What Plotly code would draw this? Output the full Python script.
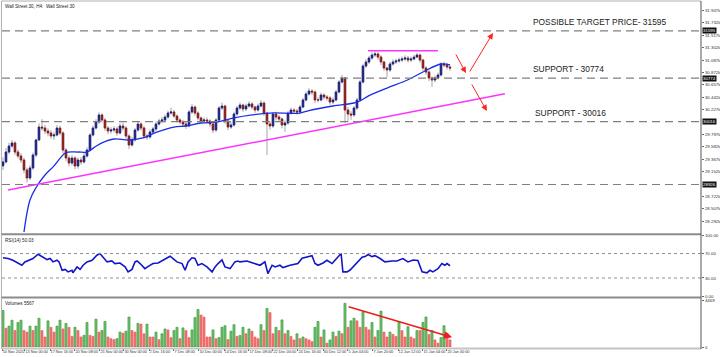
import plotly.graph_objects as go

# ---------------- data ----------------
close = [29317, 29490, 29594, 29647, 29490, 29421, 29351, 29178, 29039, 29213,
         29438, 29699, 29924, 29907, 29855, 29820, 29768, 29785, 29907, 29820,
         29525, 29386, 29299, 29386, 29247, 29351, 29317, 29421, 29525, 29785,
         29907, 30011, 30133, 30046, 29907, 29855, 29872, 29890, 29820, 29942,
         29907, 29768, 29612, 29699, 29872, 29976, 29907, 29768, 29751, 29837,
         29890, 29976, 30028, 30046, 30098, 30167, 30185, 30115, 30046, 30011,
         29976, 29942, 30185, 30271, 30167, 30081, 30028, 30046, 30028, 29976,
         29872, 30046, 30254, 30289, 30028, 29924, 29959, 30150, 30254, 30306,
         30237, 30289, 30324, 30271, 30219, 30289, 30341, 30167, 29976, 29942,
         30150, 30098, 30063, 29959, 29994, 30167, 30219, 30202, 30185, 30271,
         30393, 30497, 30549, 30532, 30393, 30393, 30480, 30445, 30428, 30358,
         30393, 30532, 30705, 30775, 30219, 30150, 30133, 30254, 30393, 30705,
         30983, 31053, 31122, 31174, 31192, 31139, 31053, 30949, 30914, 31018,
         31053, 31070, 31087, 31105, 31122, 31087, 31105, 31139, 31174, 31087,
         30949, 30879, 30775, 30740, 30775, 30827, 31018, 31001, 30966, 30949]
first_open = 29250
high = [29400, 29560, 29650, 29700, 29680, 29530, 29470, 29390, 29220, 29260,
        29480, 29720, 29990, 30060, 29960, 29900, 29870, 29840, 29960, 29950,
        29850, 29560, 29430, 29440, 29420, 29400, 29400, 29470, 29570, 29820,
        29950, 30060, 30180, 30160, 30080, 29940, 29920, 29940, 29930, 29990,
        30000, 29940, 29800, 29750, 29910, 30020, 30010, 29940, 29810, 29880,
        29930, 30020, 30070, 30100, 30140, 30210, 30260, 30220, 30140, 30080,
        30050, 30010, 30220, 30320, 30300, 30200, 30110, 30090, 30090, 30060,
        30010, 30080, 30290, 30350, 30310, 30060, 30010, 30190, 30290, 30350,
        30330, 30330, 30370, 30360, 30300, 30330, 30390, 30370, 30190, 30020,
        30180, 30190, 30130, 30090, 30040, 30200, 30260, 30250, 30240, 30310,
        30430, 30540, 30600, 30580, 30560, 30440, 30520, 30510, 30480, 30460,
        30440, 30570, 30740, 30830, 30790, 30270, 30200, 30290, 30430, 30740,
        31020, 31100, 31160, 31220, 31240, 31230, 31170, 31080, 30970, 31060,
        31100, 31110, 31130, 31150, 31170, 31160, 31150, 31180, 31210, 31200,
        31110, 30980, 30910, 30800, 30820, 30870, 31050, 31060, 31040, 31000]
low = [29180, 29290, 29450, 29560, 29440, 29380, 29300, 29120, 28960, 29000,
       29180, 29400, 29680, 29860, 29800, 29760, 29720, 29700, 29760, 29780,
       29470, 29330, 29240, 29260, 29190, 29200, 29270, 29290, 29390, 29500,
       29760, 29880, 29980, 30000, 29860, 29800, 29810, 29830, 29770, 29790,
       29860, 29720, 29540, 29580, 29670, 29840, 29860, 29720, 29700, 29720,
       29800, 29860, 29950, 29990, 30010, 30070, 30140, 30080, 30000, 29970,
       29930, 29890, 29920, 30150, 30120, 30040, 29980, 29990, 29980, 29920,
       29820, 29840, 30010, 30220, 29980, 29870, 29890, 29930, 30120, 30220,
       30190, 30200, 30260, 30230, 30170, 30190, 30260, 30120, 29438, 29880,
       29910, 30040, 30010, 29900, 29840, 29960, 30140, 30160, 30140, 30160,
       30250, 30370, 30470, 30480, 30340, 30350, 30370, 30400, 30380, 30310,
       30320, 30370, 30510, 30680, 29994, 30020, 30050, 30100, 30220, 30370,
       30680, 30950, 31020, 31090, 31140, 31090, 31000, 30900, 30790, 30880,
       30990, 31020, 31040, 31050, 31070, 31040, 31050, 31080, 31120, 31040,
       30900, 30830, 30720, 30620, 30700, 30750, 30800, 30960, 30920, 30900]
volume = [3500, 1800, 2000, 2570, 1580, 2350, 2570, 1580, 1430, 2000,
          1580, 2000, 2760, 1580, 960, 2510, 1890, 1430, 2000, 2570,
          1730, 2260, 1890, 1020, 1890, 1580, 960, 1120, 2350, 1120,
          1020, 2670, 1430, 1580, 2450, 960, 800, 710, 800, 1430,
          1330, 1520, 2880, 1580, 1430, 2260, 2200, 1270, 2200, 960,
          960, 1430, 710, 1270, 1730, 1640, 900, 1580, 1890, 800,
          1830, 1580, 900, 1640, 2820, 3600, 3070, 2880, 960, 960,
          1640, 800, 900, 1890, 2040, 710, 1520, 2140, 1020, 1100,
          1890, 1270, 1730, 1520, 960, 800, 2140, 1580, 3700, 3300,
          1270, 1890, 1580, 2600, 1270, 1580, 1020, 680, 1270, 800,
          960, 800, 680, 520, 1890, 2450, 960, 1640, 370, 680,
          1430, 1020, 1520, 1270, 4185, 1890, 2510, 2760, 2510, 1890,
          3380, 1890, 1640, 2350, 960, 1580, 3440, 1430, 960, 1430,
          1210, 1020, 2450, 1580, 960, 1950, 960, 800, 1580, 1580,
          2350, 2880, 1210, 1580, 680, 370, 900, 2040, 1270, 680]

ma_idx = [7, 9, 11, 14, 17, 19, 21, 25, 28, 31, 33, 37, 42, 47, 51, 57, 61, 66, 71,
          77, 83, 89, 99, 102, 110, 117, 119, 122, 128, 135, 140, 146, 149]
ma_val = [28101, 28657, 28870, 29091, 29250, 29380, 29480, 29490, 29490, 29590,
          29650, 29716, 29699, 29740, 29830, 29924, 29942, 29994, 30011, 30081,
          30133, 30167, 30167, 30210, 30289, 30341, 30376, 30470, 30601, 30745,
          30879, 31018, 31001]

rsi_idx = [0, 1.7, 3.3, 5, 6.3, 7.3, 9, 10, 11.7, 13, 14.7, 15.7, 16.7, 18, 18.7, 19.7,
           20.7, 21.7, 23, 23.3, 24.7, 25.7, 26.7, 28, 29.7, 31.3, 32.3, 33.3, 34.7,
           36.3, 37.3, 39, 40.7, 41.7, 43, 44, 44.7, 45.7, 47.3, 48.3, 50, 51.7, 53.3,
           54.7, 55.7, 56.7, 58, 59.7, 60.7, 61.7, 63, 64, 65, 66.3, 68, 69.7, 70.7,
           71.7, 73, 74, 75.7, 77.3, 78.3, 79, 81.3, 83.3, 85.7, 87.3, 88.3, 89.7,
           90.7, 92.3, 93.3, 95.7, 98.3, 99.7, 101.3, 103, 104, 105, 106.7, 108,
           109.7, 111.3, 112.7, 113.3, 114.7, 115.7, 116.7, 118, 119.7, 120.7, 121.7,
           123, 124, 125.7, 127.3, 129.7, 131.3, 133.3, 135, 136.7, 138.3, 139.7,
           141.3, 142.3, 143.3, 145, 146.3, 147.3, 148, 149]
rsi_val = [63, 61.8, 59, 53.6, 50.8, 56.3, 59, 61.8, 68.9, 65.6, 60.1, 61.8, 56.3, 59,
           56.3, 42.6, 44, 39.9, 42.6, 38.5, 48.1, 44, 50.8, 56.3, 59, 67.2, 70, 64.4,
           56.3, 57.8, 53.6, 54.5, 48.1, 39.9, 44, 56.3, 57.8, 53.6, 45.3, 48.5, 53.6,
           54.5, 59, 62.3, 65.6, 61.8, 56.3, 53.6, 42.6, 56.3, 63, 61.8, 50.8, 53.6,
           48.1, 39.9, 48.1, 53.6, 59.5, 48.1, 45.3, 56.3, 57.8, 56.3, 57.8, 54.5,
           50.8, 56.3, 37.2, 50.8, 48.1, 50.8, 47, 50.8, 53.6, 62.3, 64.4, 66.5, 53.6,
           50.8, 54.5, 59, 53.6, 61.8, 70, 40, 40, 43, 48.1, 53.6, 64, 65, 68.4, 65,
           66.5, 61.8, 56.3, 57.8, 57.8, 61.8, 56.3, 59.5, 58.5, 40, 38.5, 42.6, 40,
           45.3, 53.6, 50.8, 53.6, 50.03]

levels = [31595, 30774, 30016, 28926]
price_ticks = [31947, 31732, 31517, 31302, 31087, 30872, 30657, 30442, 30227,
               29797, 29582, 29367, 29152, 28722, 28507, 28292]
rsi_levels = [70, 30]
time_pos = [-0.25, 7.3, 15.7, 24, 32.3, 40.3, 48.7, 57, 65.3, 73.7, 82, 90, 98.3,
            106.7, 115, 123.3, 131.7, 140, 148]
time_labels = ["10 Nov 2020", "13 Nov 00:00", "17 Nov 16:00", "20 Nov 08:00",
               "25 Nov 00:00", "30 Nov 00:00", "2 Dec 16:00", "7 Dec 08:00",
               "10 Dec 00:00", "14 Dec 16:00", "17 Dec 08:00", "22 Dec 00:00",
               "24 Dec 16:00", "30 Dec 12:00", "5 Jan 04:00", "7 Jan 20:00",
               "12 Jan 12:00", "15 Jan 04:00", "20 Jan 00:00"]
trend_x = [1.7, 167.3]
trend_y = [28830, 30500]
resist_x = [121.7, 145]
resist_y = [31249, 31249]
vol_arrow_x = [114.7, 149.7]
vol_arrow_y = [3906, 930]
# scenario arrows: (tail_x, tail_y, head_x, head_y)
arrows = [(150.7, 31209, 154.3, 30862),
          (155.3, 30862, 163.3, 31556),
          (156.0, 30688, 161.3, 30202)]
notes = [("POSSIBLE TARGET PRICE- 31595", 176, 31747),
         ("SUPPORT - 30774", 176, 30931),
         ("SUPPORT - 30016", 176.7, 30167)]
vol_max = 4469

# ---------------- derived ----------------
n = len(close)
idx = list(range(n))
open_ = [first_open] + close[:-1]
body_hi = [max(o, c) for o, c in zip(open_, close)]
body_lo = [min(o, c) for o, c in zip(open_, close)]
vol_colors = ["#72c472" if i == 0 or volume[i] > volume[i - 1] else "#f27575" for i in range(n)]
vol_lines = ["#2f922f" if i == 0 or volume[i] > volume[i - 1] else "#ec5a5a" for i in range(n)]

H = 357.0
W = 720.0
def py(px):
    return (H - px) / H

FONT = "Liberation Sans, Arial, sans-serif"
TF = dict(size=4.4, color="#333", family=FONT)
XF = dict(size=3.8, color="#333", family=FONT)

fig = go.Figure()

# wicks (gray)
fig.add_trace(go.Candlestick(
    x=idx, open=open_, high=high, low=low, close=close,
    increasing=dict(line=dict(color="#a5a5a5", width=1), fillcolor="#a5a5a5"),
    decreasing=dict(line=dict(color="#a5a5a5", width=1), fillcolor="#a5a5a5"),
    xaxis="x", yaxis="y", showlegend=False, hoverinfo="skip"))
# bodies
fig.add_trace(go.Candlestick(
    x=idx, open=open_, high=body_hi, low=body_lo, close=close,
    increasing=dict(line=dict(color="#1c2380", width=1), fillcolor="#1c2380"),
    decreasing=dict(line=dict(color="#8a1c1c", width=1), fillcolor="#8a1c1c"),
    xaxis="x", yaxis="y", showlegend=False, hoverinfo="skip"))

# moving average
fig.add_trace(go.Scatter(x=ma_idx, y=ma_val, mode="lines", line=dict(color="#1a2fe6", width=1.3, shape="spline"),
                         xaxis="x", yaxis="y", showlegend=False, hoverinfo="skip"))
# trend lines
fig.add_trace(go.Scatter(x=trend_x, y=trend_y, mode="lines", line=dict(color="#ff33ff", width=1.5),
                         xaxis="x", yaxis="y", showlegend=False, hoverinfo="skip"))
fig.add_trace(go.Scatter(x=resist_x, y=resist_y, mode="lines", line=dict(color="#ff33ff", width=1.5),
                         xaxis="x", yaxis="y", showlegend=False, hoverinfo="skip"))

# RSI
fig.add_trace(go.Scatter(x=rsi_idx, y=rsi_val, mode="lines", line=dict(color="#1414c8", width=1.6),
                         xaxis="x", yaxis="y2", showlegend=False, hoverinfo="skip"))

# Volume
fig.add_trace(go.Bar(x=idx, y=volume, marker=dict(color=vol_colors, line=dict(color=vol_lines, width=0.6)),
                     width=0.7, xaxis="x", yaxis="y3", showlegend=False, hoverinfo="skip"))

x0d, x1d = 2 / W, 701 / W
xr = [-0.33, 232.67]

fig.update_layout(
    width=720, height=357,
    margin=dict(l=0, r=0, t=0, b=0, autoexpand=False),
    paper_bgcolor="white", plot_bgcolor="white",
    font=dict(family=FONT, size=5, color="#333"),
    showlegend=False,
    xaxis=dict(domain=[x0d, x1d], range=xr, anchor="y3", showgrid=False, zeroline=False,
               rangeslider=dict(visible=False), automargin=False, tickangle=0,
               tickvals=time_pos, ticktext=time_labels, ticks="outside", ticklen=3,
               tickcolor="#666", ticklabelposition="outside right",
               tickfont=XF, showline=False),
    yaxis=dict(domain=[py(233), py(1)], range=[28084, 32112], side="right", anchor="x",
               automargin=False, showgrid=False, zeroline=False, tickvals=price_ticks,
               ticks="outside", ticklen=2, tickcolor="#666", tickfont=TF),
    yaxis2=dict(domain=[py(296.3), py(235.2)], range=[0, 100], side="right", anchor="x",
                automargin=False, showgrid=False, zeroline=False, tickvals=[0, 30, 70, 100],
                ticktext=["0.00", "30.00", "70.00", "100.00"], ticks="outside", ticklen=2,
                tickcolor="#666", tickfont=TF),
    yaxis3=dict(domain=[py(347), py(299)], range=[0, vol_max * 1.03], side="right", anchor="x",
                automargin=False, showgrid=False, zeroline=False, tickvals=[0, vol_max],
                ticktext=["0", str(vol_max)], ticks="outside", ticklen=2,
                tickcolor="#666", tickfont=TF),
    bargap=0.3,
)

shapes = []
# support / target levels
for lv in levels:
    shapes.append(dict(type="line", xref="paper", yref="y", x0=x0d, x1=x1d, y0=lv, y1=lv,
                       line=dict(color="#808080", width=1.2, dash="8px,5px")))
for lv in rsi_levels:
    shapes.append(dict(type="line", xref="paper", yref="y2", x0=x0d, x1=x1d, y0=lv, y1=lv,
                       line=dict(color="#909090", width=1, dash="dot")))
# frame and pane separators
shapes += [
    dict(type="line", xref="paper", yref="paper", x0=0.002, x1=x1d, y0=py(1), y1=py(1),
         line=dict(color="#b0b0b0", width=1)),
    dict(type="line", xref="paper", yref="paper", x0=0.002, x1=0.002, y0=py(349), y1=py(1),
         line=dict(color="#b0b0b0", width=1)),
    dict(type="line", xref="paper", yref="paper", x0=0.002, x1=x1d, y0=py(234.3), y1=py(234.3),
         line=dict(color="#8c8c8c", width=2)),
    dict(type="line", xref="paper", yref="paper", x0=0.002, x1=x1d, y0=py(297.6), y1=py(297.6),
         line=dict(color="#8c8c8c", width=2)),
    dict(type="line", xref="paper", yref="paper", x0=0.002, x1=x1d, y0=py(348.5), y1=py(348.5),
         line=dict(color="#c4c4c4", width=2)),
    dict(type="line", xref="paper", yref="paper", x0=x1d, x1=x1d, y0=py(349), y1=py(1),
         line=dict(color="#555", width=1)),
]
fig.update_layout(shapes=shapes)

ann = []
# level price tags on axis
for lv in levels:
    ann.append(dict(xref="paper", yref="y", x=x1d + 1 / W, y=lv, text=str(lv), showarrow=False,
                    xanchor="left", yanchor="middle", bgcolor="#111",
                    font=dict(size=4.4, color="white", family=FONT), borderpad=0))
# text notes
for t, xx, yy in notes:
    ann.append(dict(xref="x", yref="y", x=xx, y=yy, text=t, showarrow=False, xanchor="left",
                    yanchor="middle", font=dict(size=8.4, color="#222", family=FONT)))
# red scenario arrows
for tx, ty, hx, hy in arrows:
    ann.append(dict(xref="x", yref="y", axref="x", ayref="y", x=hx, y=hy, ax=tx, ay=ty, text="",
                    showarrow=True, arrowhead=2, arrowsize=1.2, arrowwidth=1, arrowcolor="#ff2020"))
# volume arrow
ann.append(dict(xref="x", yref="y3", axref="x", ayref="y3", x=vol_arrow_x[1], y=vol_arrow_y[1],
                ax=vol_arrow_x[0], ay=vol_arrow_y[0], text="", showarrow=True, arrowhead=2,
                arrowsize=1, arrowwidth=1.6, arrowcolor="#ee1c1c"))
# pane titles
ann += [
    dict(xref="paper", yref="paper", x=3 / W, y=py(2), text="Wall Street 30, H4:  Wall Street 30",
         showarrow=False, xanchor="left", yanchor="top", font=dict(size=4.6, color="#222", family=FONT)),
    dict(xref="paper", yref="paper", x=3 / W, y=py(235.5), text="RSI(14) 50.03",
         showarrow=False, xanchor="left", yanchor="top", font=dict(size=4.6, color="#222", family=FONT)),
    dict(xref="paper", yref="paper", x=3 / W, y=py(298.5), text="Volumes 5567",
         showarrow=False, xanchor="left", yanchor="top", font=dict(size=4.6, color="#222", family=FONT)),
]
fig.update_layout(annotations=ann)

fig.write_html("out.html", config={"displayModeBar": False, "staticPlot": True},
               post_script="document.body.style.margin='0';document.body.style.overflow='hidden';")
